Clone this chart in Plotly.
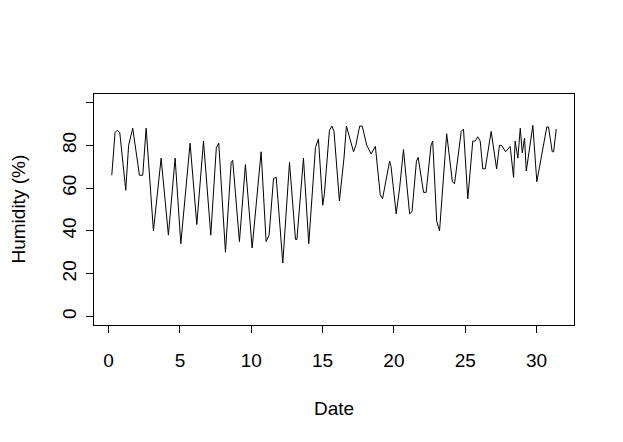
import plotly.graph_objects as go

date = [0.22, 0.45, 0.6, 0.78, 1.2, 1.4, 1.69, 2.16, 2.39, 2.63, 3.14, 3.68, 4.19, 4.66,
        5.06, 5.71, 6.18, 6.65, 7.16, 7.55, 7.72, 8.19, 8.59, 8.7, 9.17, 9.59, 10.06,
        10.69, 11.04, 11.25, 11.56, 11.75, 12.21, 12.68, 13.1, 13.2, 13.66, 14.03, 14.5,
        14.71, 15.01, 15.12, 15.48, 15.65, 15.8, 16.18, 16.5, 16.67, 17.17, 17.33, 17.6,
        17.78, 18.1, 18.4, 18.7, 19.04, 19.2, 19.7, 19.8, 20.16, 20.4, 20.67, 21.1,
        21.27, 21.58, 21.7, 22.08, 22.26, 22.6, 22.72, 23.0, 23.2, 23.7, 24.1, 24.25,
        24.72, 24.88, 25.18, 25.53, 25.7, 25.88, 26.05, 26.23, 26.4, 26.82, 27.2, 27.4,
        27.55, 27.83, 28.15, 28.39, 28.5, 28.69, 28.86, 29.0, 29.16, 29.28, 29.74, 30.02,
        30.72, 30.84, 31.1, 31.2, 31.38]
humidity = [66, 86, 87, 86, 59, 80, 88, 66, 66, 88, 40, 74, 38, 74,
            34, 81, 43, 82, 38, 79, 81, 30, 72, 73, 35, 71, 32,
            77, 35, 38, 64.5, 65, 25, 72, 36, 36, 74, 34, 79,
            83, 52, 57, 87, 89, 86.5, 54, 74, 89, 77, 80, 89,
            89, 80, 76, 79.5, 57, 55, 72.6, 70, 48, 60, 78, 48,
            49, 72.6, 74.4, 58, 58, 80, 82, 44.6, 40, 85.4, 63, 62,
            86.5, 87.6, 55, 82, 82, 84, 82, 69, 69, 86.5, 69, 80,
            80, 77, 79.5, 65, 82, 74, 88, 76.5, 83.4, 68, 89.3, 63,
            88.6, 88.6, 77, 77, 87.6]

x_ticks = [0, 5, 10, 15, 20, 25, 30]
y_ticks = [0, 20, 40, 60, 80, 100]
y_tick_labels = ["0", "20", "40", "60", "80", ""]

xmin, xmax = min(date), max(date)
pad = 0.04 * (xmax - xmin)

font = dict(family="Liberation Sans, Arial, sans-serif", size=19, color="black")

fig = go.Figure(go.Scatter(x=date, y=humidity, mode="lines",
                           line=dict(color="black", width=1)))

fig.update_layout(
    width=615, height=434,
    margin=dict(l=86, r=49, t=86, b=117),
    plot_bgcolor="white", paper_bgcolor="white",
    showlegend=False, font=font,
    annotations=[
        dict(text="Date", xref="paper", yref="paper", x=0.5, y=0,
             xanchor="center", yanchor="middle", yshift=-83, showarrow=False, font=font),
        dict(text="Humidity (%)", xref="paper", yref="paper", x=0, y=0.5,
             xanchor="center", yanchor="middle", xshift=-76, textangle=-90,
             showarrow=False, font=font),
    ],
)
fig.update_xaxes(range=[xmin - pad, xmax + pad], tickvals=x_ticks, ticks="outside",
                 ticklen=7, tickcolor="black", showline=True, linecolor="black",
                 linewidth=1, mirror=True, showgrid=False, zeroline=False,
                 ticklabelstandoff=11, tickfont=font)
fig.update_yaxes(range=[-4, 104], tickvals=y_ticks, ticktext=y_tick_labels,
                 ticks="outside", ticklen=7, tickcolor="black", showline=True,
                 linecolor="black", linewidth=1, mirror=True, showgrid=False,
                 zeroline=False, tickangle=-90, ticklabelstandoff=2, tickfont=font)

fig.write_html("out.html")
